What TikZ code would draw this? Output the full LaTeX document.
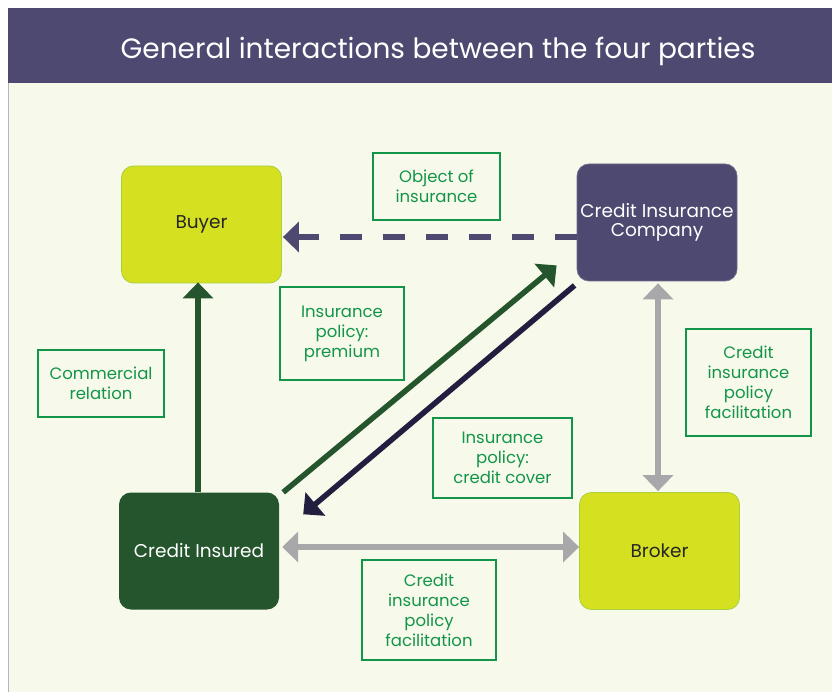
\documentclass[tikz,border=0pt]{standalone}
\usepackage{fontspec}
\setmainfont{Poppins}
\usetikzlibrary{arrows.meta}
\definecolor{titlepurple}{HTML}{4D4970}
\definecolor{bgcream}{HTML}{F7F9EA}
\definecolor{lime}{HTML}{D5E021}
\definecolor{limeborder}{HTML}{A9CF3C}
\definecolor{dkgreen}{HTML}{25552D}
\definecolor{navy}{HTML}{221E3F}
\definecolor{arrowgray}{HTML}{A8A8AB}
\definecolor{labgreen}{HTML}{139549}
\definecolor{edgegray}{HTML}{B4B4C4}
\tikzset{
  party/.style={rounded corners=12pt, minimum width=160pt, minimum height=117pt, inner sep=0pt, align=center, font=\fontsize{18.5}{19.5}\selectfont},
  limebox/.style={party, fill=lime, draw=limeborder, line width=0.8pt, text=black!85},
  lbl/.style={draw=labgreen, line width=1.2pt, text=labgreen, align=center, inner sep=0pt, font=\fontsize{16.5}{20}\selectfont},
  tipbig/.style={-{Triangle[length=16pt,width=30pt]}},
  bigarrow/.style={line width=5.5pt},
}
\begin{document}
\begin{tikzpicture}[x=1pt,y=-1pt]
\useasboundingbox (0,0) rectangle (832,692);
\fill[white] (0,0) rectangle (832,692);
\fill[bgcream] (8,83) rectangle (832,692);
\draw[edgegray, line width=1.2pt] (8.6,83) -- (8.6,692);
\fill[titlepurple] (8,8) rectangle (832,83);
\node[text=white, font=\fontsize{28}{32}\selectfont] (title) at (438,51) {General interactions between the four parties};

% parties
\node[limebox] (buyer) at (201.5,224.5) {Buyer};
\node[party, fill=titlepurple, draw=titlepurple!80!white, line width=0.8pt, text=white] (cic) at (657,222.5) {Credit Insurance\\Company};
\node[party, fill=dkgreen, text=white] (ci) at (199,551) {Credit Insured};
\node[limebox] (broker) at (659.5,551) {Broker};

% labels
\node[lbl, minimum width=127pt, minimum height=67pt] (lobj) at (436.5,186.5) {Object of\\insurance};
\node[lbl, minimum width=124pt, minimum height=93pt] (lprem) at (342,333.5) {Insurance\\policy:\\premium};
\node[lbl, minimum width=139pt, minimum height=80pt] (lcover) at (502.5,458) {Insurance\\policy:\\credit cover};
\node[lbl, minimum width=126pt, minimum height=67pt] (lcomm) at (101,383.5) {Commercial\\relation};
\node[lbl, minimum width=125pt, minimum height=107pt] (lfacr) at (748.5,382.5) {Credit\\insurance\\policy\\facilitation};
\node[lbl, minimum width=134pt, minimum height=100pt] (lfacb) at (429,610) {Credit\\insurance\\policy\\facilitation};

% connectors
\draw[titlepurple, line width=5.5pt, dash pattern=on 22pt off 21pt, tipbig]
  ([shift={(0,14.5)}]cic.west) -- ([shift={(1,12.5)}]buyer.east);
\draw[dkgreen, bigarrow, tipbig] ([shift={(-1,0)}]ci.north) -- ([shift={(-3.5,-1)}]buyer.south);
\draw[dkgreen, bigarrow, tipbig] ([shift={(4,0)}]ci.north east) -- ([shift={(-20,-16)}]cic.south west);
\draw[navy, bigarrow, tipbig] ([shift={(-2,4)}]cic.south west) -- ([shift={(24,22)}]ci.north east);
\draw[arrowgray, bigarrow, {Triangle[length=16pt,width=30pt]}-{Triangle[length=16pt,width=30pt]}]
  ([shift={(1,2)}]cic.south) -- ([shift={(-1.5,-1)}]broker.north);
\draw[arrowgray, bigarrow, {Triangle[length=16pt,width=30pt]}-{Triangle[length=16pt,width=30pt]}]
  ([shift={(3,-4)}]ci.east) -- ([shift={(0,-4)}]broker.west);
\end{tikzpicture}
\end{document}
